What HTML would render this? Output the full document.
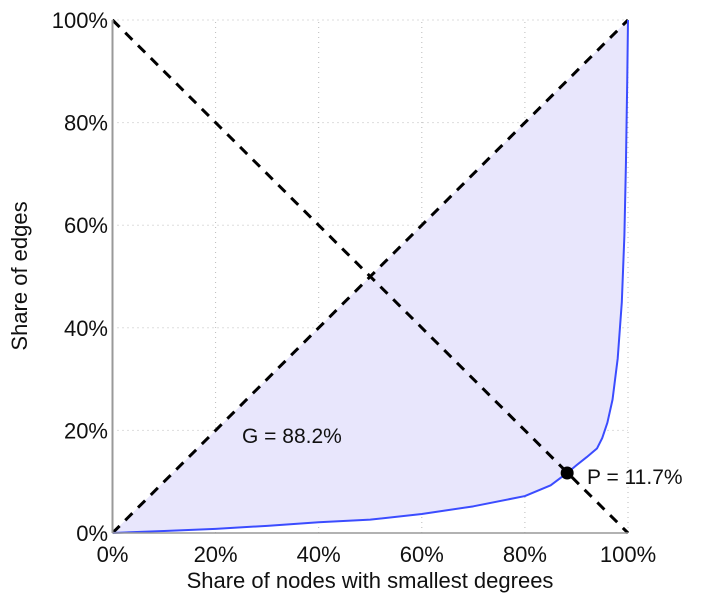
<!DOCTYPE html>
<html><head><meta charset="utf-8"><style>
body{margin:0;background:#fff;}
svg text{font-family:"Liberation Sans",sans-serif;fill:#111;}
</style></head><body>
<svg width="719" height="600" xmlns="http://www.w3.org/2000/svg">
<g id="grid"></g>
<g id="plot"></g>
<g id="axes"></g>
<text x="370" y="588" font-size="22" text-anchor="middle">Share of nodes with smallest degrees</text>
<text transform="translate(27,276) rotate(-90)" font-size="22" text-anchor="middle">Share of edges</text>
<text x="242" y="443" font-size="21">G = 88.2%</text>
<text x="587" y="484" font-size="21">P = 11.7%</text>
</svg>
<script>
const ticks=[0,20,40,60,80,100];
const tickLabels=["0%","20%","40%","60%","80%","100%"];
const curveX=[0,10,20,30,40,50,60,70,80,85,88.2,90,92,94,95,96,97,98,98.8,99.3,99.6,99.85,100];
const curveY=[0,0.4,0.8,1.4,2.1,2.6,3.7,5.2,7.2,9.3,11.7,13.2,14.8,16.5,18.5,21.5,26,34,45,58,72,88,100];
const pPoint=[88.2,11.7];
const NS="http://www.w3.org/2000/svg";
const X=v=>112.5+v/100*515.5, Y=v=>533-v/100*513;
function mk(t,a,p){const e=document.createElementNS(NS,t);for(const k in a)e.setAttribute(k,a[k]);p.appendChild(e);return e;}
const grid=document.getElementById('grid'),plot=document.getElementById('plot'),axes=document.getElementById('axes');
ticks.forEach((t,i)=>{
 const gv=mk('line',{x1:X(t),x2:X(t),y1:Y(0),y2:Y(100),stroke:'#bbb','stroke-dasharray':'1,4'},grid);
 
 
 const gh=mk('line',{x1:X(0),x2:X(100),y1:Y(t),y2:Y(t),stroke:'#bbb','stroke-dasharray':'1,4'},grid);
 
 
 const tx=mk('text',{x:X(t),y:562,'font-size':22,'text-anchor':'middle'},axes);tx.textContent=tickLabels[i];
 
 
 const ty=mk('text',{x:108,y:Y(t)+8,'font-size':22,'text-anchor':'end'},axes);ty.textContent=tickLabels[i];
 
 
});
let pts=curveX.map((x,i)=>X(x)+','+Y(curveY[i]));
const fill=mk('polygon',{points:pts.join(' ')+' '+X(0)+','+Y(0),fill:'#e8e6fc'},plot);


const d1=mk('line',{x1:X(0),y1:Y(0),x2:X(100),y2:Y(100),stroke:'#000','stroke-width':3,'stroke-dasharray':'10,8'},plot);


const d2=mk('line',{x1:X(0),y1:Y(100),x2:X(100),y2:Y(0),stroke:'#000','stroke-width':3,'stroke-dasharray':'10,8'},plot);


const c=mk('polyline',{points:pts.join(' '),fill:'none',stroke:'#3b4cff','stroke-width':2,'stroke-linejoin':'round'},plot);


const p=mk('circle',{cx:X(pPoint[0]),cy:Y(pPoint[1]),r:6.5,fill:'#000'},plot);


const ax=mk('line',{x1:X(0),y1:Y(0),x2:X(0),y2:Y(100),stroke:'#999','stroke-width':2},axes);


const bx=mk('line',{x1:X(0),y1:Y(0),x2:X(100),y2:Y(0),stroke:'#999','stroke-width':1.5},axes);


</script>
</body></html>
